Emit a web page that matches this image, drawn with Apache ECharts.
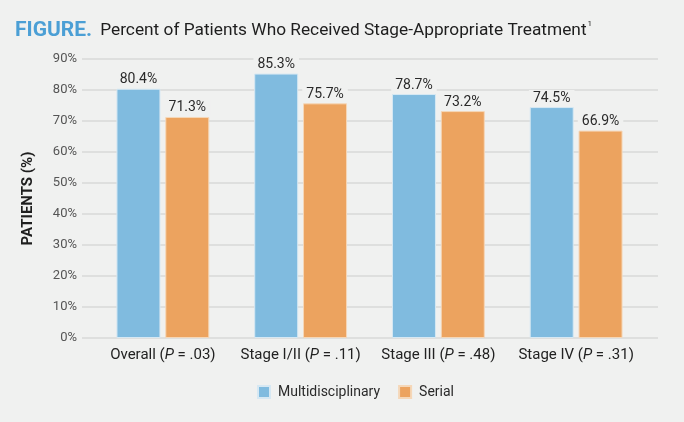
<!DOCTYPE html>
<html><head><meta charset="utf-8">
<script src="https://cdn.jsdelivr.net/npm/echarts@6/dist/echarts.min.js"></script>
<style>html,body{margin:0;padding:0;background:#f0f1f0;}#c{width:684px;height:422px;}</style>
</head><body><div id="c"></div>
<script>
var categories = ['Overall', 'Stage I/II', 'Stage III', 'Stage IV'];
var pValues = ['.03', '.11', '.48', '.31'];
var multidisciplinary = [80.4, 85.3, 78.7, 74.5];
var serial = [71.3, 75.7, 73.2, 66.9];
var yTicks = [0, 10, 20, 30, 40, 50, 60, 70, 80, 90];

var FONT = '"Roboto", "Liberation Sans", sans-serif';
var chart = echarts.init(document.getElementById('c'));
var labelOpt = {
  show: true, position: 'top', distance: 2,
  formatter: function (p) { return p.value.toFixed(1) + '%'; },
  color: '#2a2a2a', fontSize: 14, fontFamily: FONT,
  backgroundColor: '#f0f1f0', padding: [1, 4, 0, 4]
};
chart.setOption({
  backgroundColor: '#f0f1f0',
  animation: false,
  title: {
    left: 10, top: 15,
    text: '{f|FIGURE.} {t|Percent of Patients Who Received Stage-Appropriate Treatment}{s|1}',
    textStyle: {
      fontWeight: 'normal',
      rich: {
        f: { fontFamily: FONT, fontWeight: 'bold', fontSize: 21, color: '#4b9fd5', padding: [0, 3, 0, 0] },
        t: { fontFamily: FONT, fontWeight: 'normal', fontSize: 17.3, color: '#1e1e1e' },
        s: { fontFamily: FONT, fontWeight: 'normal', fontSize: 8, color: '#1e1e1e', verticalAlign: 'top', padding: [0, 0, 10, 1] }
      }
    }
  },
  legend: {
    top: 380, left: 252, itemWidth: 12, itemHeight: 12, itemGap: 18,
    icon: 'rect',
    textStyle: { fontFamily: FONT, fontSize: 14, color: '#2a2a2a', padding: [0, 0, 0, 3] },
    data: ['Multidisciplinary', 'Serial']
  },
  grid: [
    { left: 82, right: 26, top: 59, bottom: 84 },
    { left: 94, right: 39, top: 59, bottom: 84 }
  ],
  xAxis: [
    { type: 'category', gridIndex: 0, data: categories, show: false },
    {
      type: 'category', gridIndex: 1, data: categories,
      axisLine: { show: false }, axisTick: { show: false },
      axisLabel: {
        interval: 0, margin: 10,
        formatter: function (v, i) { return '{n|' + v + ' (}{i|P}{n| = ' + pValues[i] + ')}'; },
        rich: {
          n: { fontFamily: FONT, fontSize: 15, color: '#222' },
          i: { fontFamily: FONT, fontSize: 15, color: '#222', fontStyle: 'italic' }
        }
      }
    }
  ],
  yAxis: [
    {
      type: 'value', gridIndex: 0, min: 0, max: 90, interval: 10,
      name: 'PATIENTS (%)', nameLocation: 'middle', nameGap: 46, nameRotate: 90,
      nameTextStyle: { fontFamily: FONT, fontWeight: 'bold', fontSize: 15, color: '#1e1e1e' },
      axisLine: { show: false }, axisTick: { show: false },
      axisLabel: {
        margin: 5, fontFamily: FONT, fontSize: 13, color: '#555',
        formatter: function (v) { return yTicks.indexOf(v) >= 0 ? v + '%' : ''; }
      },
      splitLine: { lineStyle: { color: '#d8d9d8', width: 1.5 } }
    },
    {
      type: 'value', gridIndex: 1, min: 0, max: 90, interval: 10, show: false,
      splitLine: { show: false }
    }
  ],
  series: [
    {
      name: 'Multidisciplinary', type: 'bar', xAxisIndex: 1, yAxisIndex: 1,
      data: multidisciplinary, barWidth: 44, barGap: '11%',
      itemStyle: { color: '#80bbdf', borderColor: '#d6e8f3', borderWidth: 1 },
      label: labelOpt
    },
    {
      name: 'Serial', type: 'bar', xAxisIndex: 1, yAxisIndex: 1,
      data: serial, barWidth: 44,
      itemStyle: { color: '#eca35f', borderColor: '#f5d7b8', borderWidth: 1 },
      label: labelOpt
    }
  ]
});
</script></body></html>
